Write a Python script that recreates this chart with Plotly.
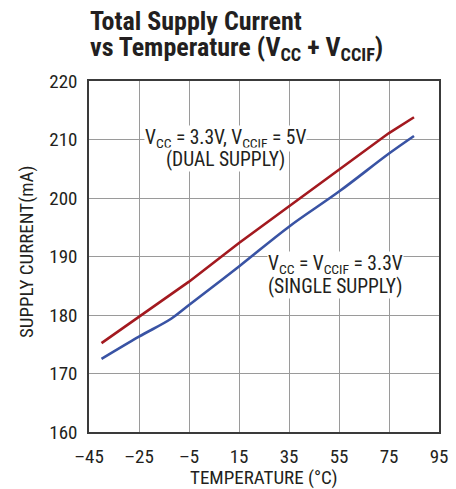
import plotly.graph_objects as go

temp_dual = [-40, -25, -5, 15, 35, 55, 75, 85]
curr_dual = [175.2, 179.7, 185.7, 192.3, 198.6, 204.8, 211.1, 213.8]
temp_single = [-40, -25, -12, -5, 15, 35, 55, 75, 85]
curr_single = [172.5, 176.3, 179.4, 181.7, 188.3, 195.1, 201.1, 207.6, 210.6]

x_ticks = [-45, -25, -5, 15, 35, 55, 75, 95]
x_ticktext = ["–45", "–25", "–5", "15", "35", "55", "75", "95"]
y_ticks = [160, 170, 180, 190, 200, 210, 220]

FONT = "Roboto Condensed, Liberation Sans Narrow, sans-serif"
TXT = "#231f20"

# plot area in pixels: left 89, right 439, top 81, bottom 432
L, R, T, B = 89, 439, 81, 432
PW, PH = R - L, B - T


def px(xp):
    return (xp - L) / PW


def py(yp):
    return (B - yp) / PH


fig = go.Figure()
fig.add_trace(go.Scatter(x=temp_dual, y=curr_dual, mode="lines",
                         line=dict(color="#a3191f", width=2.6), showlegend=False,
                         hoverinfo="skip"))
fig.add_trace(go.Scatter(x=temp_single, y=curr_single, mode="lines",
                         line=dict(color="#3953a4", width=2.6, shape="spline", smoothing=1.0),
                         showlegend=False, hoverinfo="skip"))

labels = [
    ("V<sub>CC</sub> = 3.3V, V<sub>CCIF</sub> = 5V", 225, 138),
    ("(DUAL SUPPLY)", 225, 159),
    ("V<sub>CC</sub> = V<sub>CCIF</sub> = 3.3V", 335, 264),
    ("(SINGLE SUPPLY)", 335, 286),
]
for txt, xp, yp in labels:
    fig.add_annotation(x=px(xp), y=py(yp), xref="paper", yref="paper", text=txt,
                       showarrow=False, bgcolor="white", borderpad=0,
                       xanchor="center", yanchor="middle",
                       font=dict(family=FONT, size=19.5, color=TXT))

# title lines
fig.add_annotation(x=px(88), y=py(21), xref="paper", yref="paper",
                   text="<b>Total Supply Current</b>", showarrow=False,
                   xanchor="left", yanchor="middle", font=dict(family=FONT, size=26, color=TXT))
fig.add_annotation(x=px(88), y=py(49), xref="paper", yref="paper",
                   text="<b>vs Temperature (V<sub>CC</sub> + V<sub>CCIF</sub>)</b>", showarrow=False,
                   xanchor="left", yanchor="middle", font=dict(family=FONT, size=26, color=TXT))

# axis titles
fig.add_annotation(x=px(264), y=py(477), xref="paper", yref="paper",
                   text="TEMPERATURE (°C)", showarrow=False,
                   xanchor="center", yanchor="middle", font=dict(family=FONT, size=19, color=TXT))
fig.add_annotation(x=px(26), y=py(252), xref="paper", yref="paper",
                   text="SUPPLY CURRENT(mA)", showarrow=False, textangle=-90,
                   xanchor="center", yanchor="middle", font=dict(family=FONT, size=19, color=TXT))

fig.update_layout(
    width=456, height=489,
    margin=dict(l=L, r=456 - R, t=T, b=489 - B),
    paper_bgcolor="white", plot_bgcolor="white",
    font=dict(family=FONT, color=TXT, size=19),
    hovermode=False,
)
fig.update_xaxes(range=[-45, 95], tickvals=x_ticks, ticktext=x_ticktext,
                 showgrid=True, gridcolor="#9a9a9a", gridwidth=1,
                 showline=True, linecolor="#3a3a3a", linewidth=1.5, mirror=True,
                 ticks="", zeroline=False, automargin=False, ticklabelstandoff=6,
                 tickfont=dict(size=19))
fig.update_yaxes(range=[160, 220], tickvals=y_ticks,
                 showgrid=True, gridcolor="#9a9a9a", gridwidth=1,
                 showline=True, linecolor="#3a3a3a", linewidth=1.5, mirror=True,
                 ticks="", zeroline=False, automargin=False, ticklabelstandoff=6,
                 tickfont=dict(size=19))

fig.write_html("out.html", config={"displayModeBar": False},
               post_script="document.body.style.margin='0';document.body.style.overflow='hidden';")
